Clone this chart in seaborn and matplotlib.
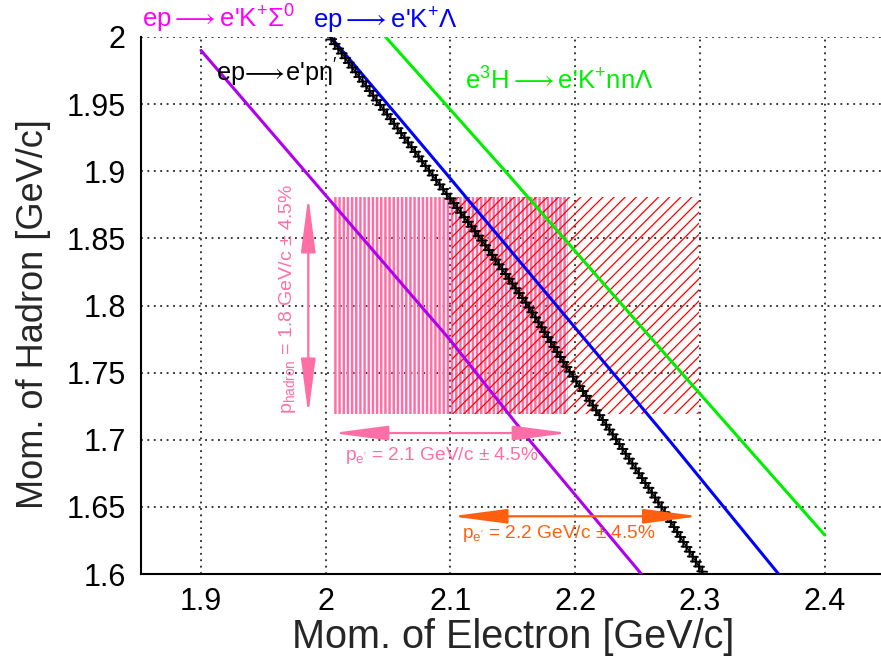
import numpy as np
import pandas as pd
import matplotlib
matplotlib.use("Agg")
import matplotlib.pyplot as plt
import seaborn as sns
from matplotlib import patheffects as pe
from matplotlib.patches import Rectangle
from matplotlib.ticker import MultipleLocator

# ---------------- data ----------------
sigma_pe = [1.900, 2.000, 2.100, 2.163, 2.253]
sigma_ph = [1.990, 1.882, 1.774, 1.700, 1.600]

lambda_pe = [2.004, 2.095, 2.185, 2.275, 2.363]
lambda_ph = [2.000, 1.900, 1.800, 1.700, 1.600]

etap_pe = [2.003, 2.084, 2.124, 2.162, 2.196, 2.233, 2.269, 2.303]
etap_ph = [2.000, 1.899, 1.850, 1.800, 1.750, 1.700, 1.650, 1.600]

hyp_pe = [2.048, 2.143, 2.238, 2.285, 2.400]
hyp_ph = [2.000, 1.901, 1.800, 1.750, 1.629]

pe_settings = [2.1, 2.2]      # electron momentum settings [GeV/c]
ph_setting = 1.8              # hadron momentum setting [GeV/c]
tolerance = 0.045             # +-4.5 %

x_major = [1.9, 2.0, 2.1, 2.2, 2.3, 2.4]
y_major = [1.6, 1.65, 1.7, 1.75, 1.8, 1.85, 1.9, 1.95, 2.0]

# ---------------- style ----------------
sns.set_style("white")
plt.rcParams["font.family"] = ["Liberation Sans", "DejaVu Sans"]
plt.rcParams["mathtext.fontset"] = "custom"
plt.rcParams["mathtext.rm"] = "Liberation Sans"
plt.rcParams["mathtext.it"] = "Liberation Sans"
plt.rcParams["mathtext.bf"] = "Liberation Sans"
plt.rcParams["mathtext.sf"] = "Liberation Sans"
plt.rcParams["mathtext.fallback"] = "stixsans"

C_SIGMA = "#b000f0"
C_LAMBDA = "#0000ff"
C_HYP = "#00ee00"
C_PINK = "#ff6fa6"
C_RED = "#ff0000"
C_ORANGE = "#ff6010"

W, H = 881, 666
fig = plt.figure(figsize=(W / 100, H / 100), dpi=100)
ax = fig.add_axes([141 / W, 92 / H, 740 / W, 537 / H])
ax.set_xlim(1.8519, 2.4451)
ax.set_ylim(1.6, 2.0)

def px(x, y):
    return x / W, 1 - y / H


class HatchBox(Rectangle):
    """Rectangle whose hatch uses its own line width."""
    def __init__(self, *args, hatch_lw=1.0, **kw):
        with plt.rc_context({"hatch.linewidth": hatch_lw}):
            super().__init__(*args, **kw)
        self._hlw = hatch_lw
        if hasattr(self, "set_hatch_linewidth"):
            self.set_hatch_linewidth(hatch_lw)

    def draw(self, renderer):
        with plt.rc_context({"hatch.linewidth": self._hlw}):
            super().draw(renderer)


# ---------------- hatched acceptance boxes ----------------
lo_h, hi_h = ph_setting * (1 - tolerance), ph_setting * (1 + tolerance)
box_specs = [(pe_settings[0], "||||", C_PINK, 1.8), (pe_settings[1], "///", C_RED, 0.9)]
for pcen, hatch, col, hlw in box_specs:
    lo_e, hi_e = pcen * (1 - tolerance), pcen * (1 + tolerance)
    r = HatchBox((lo_e, lo_h), hi_e - lo_e, hi_h - lo_h, fill=False,
                 hatch=hatch, edgecolor=col, linewidth=0, zorder=1, hatch_lw=hlw)
    ax.add_patch(r)

# ---------------- kinematic lines ----------------
sns.lineplot(x=sigma_pe, y=sigma_ph, sort=False, estimator=None, color=C_SIGMA,
             lw=2.2, ax=ax, zorder=3)
sns.lineplot(x=lambda_pe, y=lambda_ph, sort=False, estimator=None, color=C_LAMBDA,
             lw=2.2, ax=ax, zorder=3)
sns.lineplot(x=hyp_pe, y=hyp_ph, sort=False, estimator=None, color=C_HYP,
             lw=2.2, ax=ax, zorder=3)
eta_line = sns.lineplot(x=etap_pe, y=etap_ph, sort=False, estimator=None, color="k",
                        lw=1.0, ax=ax, zorder=4).lines[-1]

# "+" markers along the eta' curve drawn as ticks (horizontal / vertical)
p0 = ax.transData.transform((etap_pe[0], etap_ph[0]))
p1 = ax.transData.transform((etap_pe[-1], etap_ph[-1]))
path_ang = np.degrees(np.arctan2(p1[1] - p0[1], p1[0] - p0[0]))
effects = [pe.TickedStroke(angle=d - path_ang, spacing=4.2, length=0.85,
                           linewidth=1.4, foreground="k") for d in (0, 90, 180, 270)]
effects.append(pe.Normal())
eta_line.set_path_effects(effects)

# ---------------- arrows ----------------
astyle = "<|-|>,head_length=3.4,head_width=0.45"
def darrow(xy0, xy1, col):
    ax.annotate("", xy=xy1, xytext=xy0,
                arrowprops=dict(arrowstyle=astyle, color=col, lw=1.6,
                                shrinkA=0, shrinkB=0, mutation_scale=10), zorder=5)

darrow((pe_settings[0] * (1 - tolerance), 1.705), (pe_settings[0] * (1 + tolerance), 1.705), C_PINK)
darrow((pe_settings[1] * (1 - tolerance), 1.643), (pe_settings[1] * (1 + tolerance), 1.643), C_ORANGE)
darrow((1.986, lo_h), (1.986, hi_h), C_PINK)

fig.text(*px(345, 455), r"p$_{\mathregular{e'}}$ = 2.1 GeV/c ± 4.5%", color=C_PINK,
         fontsize=13.8, ha="left", va="center")
fig.text(*px(462, 534), r"p$_{\mathregular{e'}}$ = 2.2 GeV/c ± 4.5%", color=C_ORANGE,
         fontsize=13.8, ha="left", va="center")
fig.text(*px(287, 299), r"p$_{\mathregular{hadron}}$ = 1.8 GeV/c ± 4.5%", color=C_PINK,
         fontsize=14, ha="center", va="center", rotation=90)

# ---------------- reaction labels ----------------
ARW = r"$\longrightarrow$"
fig.text(*px(142, 28), "ep" + ARW + r"e'K$^{\mathregular{+}}$Σ$^{\mathregular{0}}$",
         color="#ff00ff", fontsize=18.5, ha="left", va="baseline")
fig.text(*px(313, 28), "ep" + ARW + r"e'K$^{\mathregular{+}}$Λ", color=C_LAMBDA,
         fontsize=18.5, ha="left", va="baseline")
fig.text(*px(216, 82), r"ep$\!\longrightarrow\!$e'pη$^{\prime}$", color="k",
         fontsize=18.2, ha="left", va="baseline")
fig.text(*px(465, 90), r"e$^{\mathregular{3}}$H" + ARW + r"e'K$^{\mathregular{+}}$nnΛ",
         color=C_HYP, fontsize=18.5, ha="left", va="baseline")

# ---------------- axes cosmetics ----------------
ax.set_xticks(x_major)
ax.set_xticklabels([f"{v:g}" for v in x_major])
ax.set_yticks(y_major)
ax.set_yticklabels([f"{v:g}" for v in y_major])
ax.xaxis.set_minor_locator(MultipleLocator(0.02))
ax.yaxis.set_minor_locator(MultipleLocator(0.01))
ax.tick_params(axis="both", which="both", direction="in", colors="k", width=1.2)
ax.tick_params(axis="y", which="major", length=15, pad=11, labelsize=22)
ax.tick_params(axis="y", which="minor", length=7.5)
ax.tick_params(axis="x", which="major", length=12, pad=9, labelsize=22)
ax.tick_params(axis="x", which="minor", length=5.5)
ax.tick_params(top=False, right=False, which="both")
ax.grid(True, which="major", color="k", linestyle=(0, (1.2, 3)), linewidth=1.1)
for s in ("top", "right"):
    ax.spines[s].set_visible(False)
for s in ("left", "bottom"):
    ax.spines[s].set_color("k")
    ax.spines[s].set_linewidth(1.5)

ax.set_xlabel("Mom. of Electron [GeV/c]", fontsize=28.5)
ax.set_ylabel("Mom. of Hadron [GeV/c]", fontsize=26)
ax.xaxis.set_label_coords((513 - 141) / 740, (H - 637 - 92) / 537)
ax.yaxis.set_label_coords((34 - 141) / 740, (H - 314 - 92) / 537)
ax.xaxis.label.set(va="center", ha="center")
ax.yaxis.label.set(va="center", ha="center")

fig.savefig("out.png", dpi=100)
